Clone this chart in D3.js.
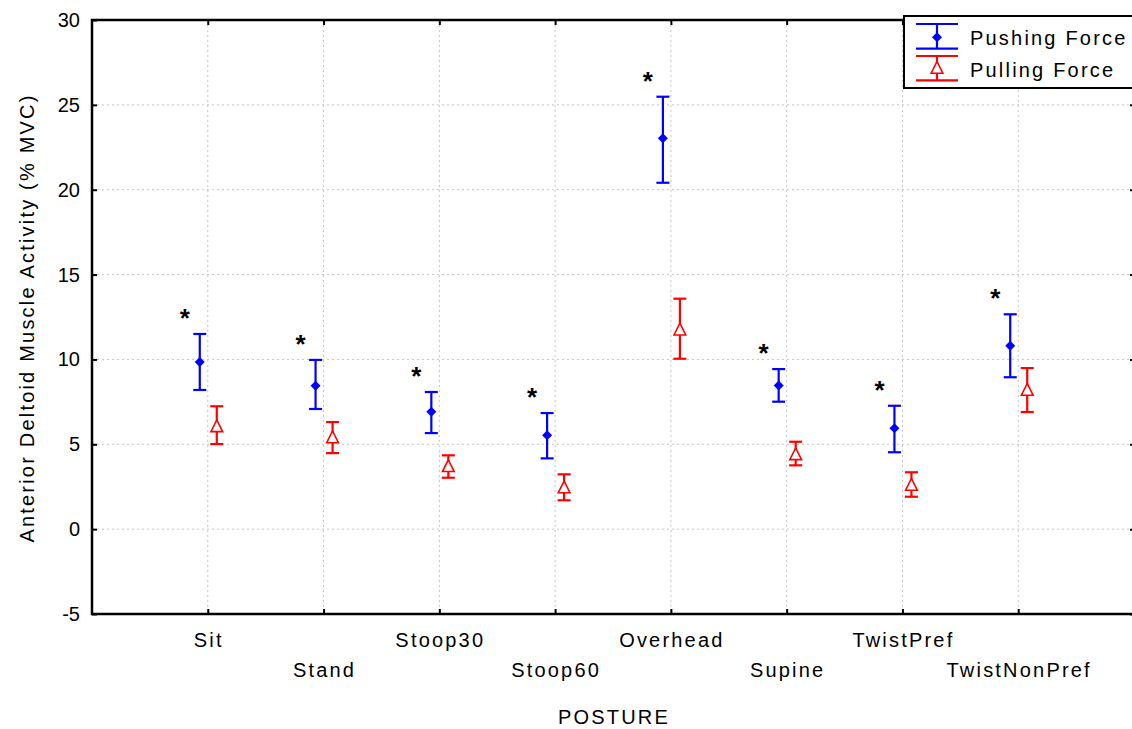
<!DOCTYPE html>
<html lang="en">
<head>
  <meta charset="UTF-8">
  <title>Anterior Deltoid Muscle Activity by Posture</title>
  <script src="https://d3js.org/d3.v7.min.js"></script>
  <style>
    body { margin: 0; background: #fff; font-family: "Liberation Sans", Arial, sans-serif; }
    svg text { fill: #000; }
    .lbl { letter-spacing: 2.2px; }
  </style>
</head>
<body>
  <svg width="1132" height="729"></svg>

  <script>
    // data
    const postures = ["Sit", "Stand", "Stoop30", "Stoop60", "Overhead", "Supine", "TwistPref", "TwistNonPref"];
    const pushMean  = [9.85, 8.45, 6.92, 5.53, 23.03, 8.47, 5.94, 10.81];
    const pushUpper = [11.5, 9.97, 8.08, 6.84, 25.48, 9.43, 7.27, 12.66];
    const pushLower = [8.2, 7.08, 5.66, 4.17, 20.41, 7.51, 4.53, 8.95];
    const pullMean  = [6.05, 5.4, 3.7, 2.45, 11.75, 4.4, 2.6, 8.2];
    const pullUpper = [7.24, 6.31, 4.35, 3.23, 13.58, 5.15, 3.35, 9.49];
    const pullLower = [5.01, 4.48, 3.03, 1.7, 10.04, 3.76, 1.91, 6.9];
    const yTicks = [-5, 0, 5, 10, 15, 20, 25, 30];

    const svg = d3.select("svg"),
          plotL = 92, plotR = 1134, plotT = 20, plotB = 614;

    const x = d3.scalePoint().domain(postures).range([plotL, plotR]).padding(1);
    const y = d3.scaleLinear().domain([-5, 30]).range([plotB, plotT]);

    const g = svg.append("g");

    // dotted grid
    g.selectAll(".hgrid").data(yTicks.filter(t => t > -5 && t < 30)).join("line")
      .attr("x1", plotL).attr("x2", plotR)
      .attr("y1", d => y(d)).attr("y2", d => y(d))
      .attr("stroke", "#c4c4c4").attr("stroke-dasharray", "2,3");
    g.selectAll(".vgrid").data(postures).join("line")
      .attr("x1", d => x(d)).attr("x2", d => x(d))
      .attr("y1", plotT).attr("y2", plotB)
      .attr("stroke", "#c4c4c4").attr("stroke-dasharray", "2,3");

    // axes, ticks pointing inward
    g.append("g").attr("transform", `translate(${plotL},0)`)
      .call(d3.axisRight(y).tickValues(yTicks).tickSize(5).tickFormat(""))
      .call(a => a.select(".domain").remove())
      .selectAll("line").attr("stroke", "#000").attr("stroke-width", 2);
    g.append("g").attr("transform", `translate(${plotR},0)`)
      .call(d3.axisLeft(y).tickValues(yTicks).tickSize(4).tickFormat(""))
      .call(a => a.select(".domain").remove())
      .selectAll("line").attr("stroke", "#000").attr("stroke-width", 2);
    g.append("g").attr("transform", `translate(0,${plotB})`)
      .call(d3.axisTop(x).tickSize(5).tickFormat(""))
      .call(a => a.select(".domain").remove())
      .selectAll("line").attr("stroke", "#000").attr("stroke-width", 2);
    g.append("g").attr("transform", `translate(0,${plotT})`)
      .call(d3.axisBottom(x).tickSize(5).tickFormat(""))
      .call(a => a.select(".domain").remove())
      .selectAll("line").attr("stroke", "#000").attr("stroke-width", 2);

    // frame
    g.append("rect")
      .attr("x", plotL).attr("y", plotT)
      .attr("width", plotR - plotL).attr("height", plotB - plotT)
      .attr("fill", "none").attr("stroke", "#000").attr("stroke-width", 2.5);

    // y tick labels
    g.selectAll(".ylab").data(yTicks).join("text")
      .attr("x", plotL - 12).attr("y", d => y(d) + 7)
      .attr("text-anchor", "end").attr("font-size", 20)
      .text(d => d);

    // x tick labels, staggered
    g.selectAll(".xlab").data(postures).join("text")
      .attr("class", "lbl")
      .attr("x", d => x(d) + 1)
      .attr("y", (d, i) => i % 2 === 0 ? 647 : 677)
      .attr("text-anchor", "middle").attr("font-size", 20)
      .text(d => d);

    svg.append("text")
      .attr("class", "lbl")
      .attr("x", 614).attr("y", 724)
      .attr("text-anchor", "middle").attr("font-size", 20)
      .text("POSTURE");

    svg.append("text")
      .attr("class", "lbl")
      .attr("transform", "translate(34,318) rotate(-90)")
      .attr("text-anchor", "middle").attr("font-size", 20)
      .text("Anterior Deltoid Muscle Activity (% MVC)");

    const cap = 6.5;
    const blue = "#0000ff", red = "#ff0000";

    function errorBar(sel, cx, lo, hi, color, w) {
      sel.append("line").attr("x1", cx).attr("x2", cx).attr("y1", lo).attr("y2", hi)
        .attr("stroke", color).attr("stroke-width", 2.2);
      [lo, hi].forEach(v => sel.append("line")
        .attr("x1", cx - w).attr("x2", cx + w).attr("y1", v).attr("y2", v)
        .attr("stroke", color).attr("stroke-width", 2.2));
    }
    const diamond = (cx, cy, r) => `M${cx},${cy - r}L${cx + r},${cy}L${cx},${cy + r}L${cx - r},${cy}Z`;
    const triangle = (cx, cy, r) => `M${cx},${cy - r}L${cx + r * 0.9},${cy + r * 0.8}L${cx - r * 0.9},${cy + r * 0.8}Z`;

    postures.forEach((p, i) => {
      const bx = x(p) - 8, rx = x(p) + 9;
      const gb = g.append("g");
      errorBar(gb, bx, y(pushLower[i]), y(pushUpper[i]), blue, cap);
      gb.append("path").attr("d", diamond(bx, y(pushMean[i]), 5)).attr("fill", blue);

      const gr = g.append("g");
      errorBar(gr, rx, y(pullLower[i]), y(pullUpper[i]), red, cap);
      gr.append("path").attr("d", triangle(rx, y(pullMean[i]), 6.5))
        .attr("fill", "#fff").attr("stroke", red).attr("stroke-width", 1.6);

      g.append("text")
        .attr("x", bx - 15).attr("y", y(pushUpper[i]) - 7)
        .attr("text-anchor", "middle").attr("font-size", 26).attr("font-weight", "bold")
        .text("*");
    });

    // legend
    const lg = svg.append("g");
    lg.append("rect").attr("x", 904).attr("y", 16).attr("width", 240).attr("height", 72)
      .attr("fill", "#fff").attr("stroke", "#000").attr("stroke-width", 2);
    const legendItems = [
      {label: "Pushing Force", color: blue, lo: 48.7, hi: 24, mid: 37.3, kind: "d", ty: 45},
      {label: "Pulling Force", color: red, lo: 80.3, hi: 56, mid: 68, kind: "t", ty: 77}
    ];
    legendItems.forEach(it => {
      errorBar(lg, 937, it.lo, it.hi, it.color, 21);
      if (it.kind === "d") {
        lg.append("path").attr("d", diamond(937, it.mid, 5)).attr("fill", it.color);
      } else {
        lg.append("path").attr("d", triangle(937, it.mid, 6.5))
          .attr("fill", "#fff").attr("stroke", it.color).attr("stroke-width", 1.6);
      }
      lg.append("text").attr("class", "lbl").attr("x", 970).attr("y", it.ty)
        .attr("font-size", 20).text(it.label);
    });
  </script>
</body>
</html>
